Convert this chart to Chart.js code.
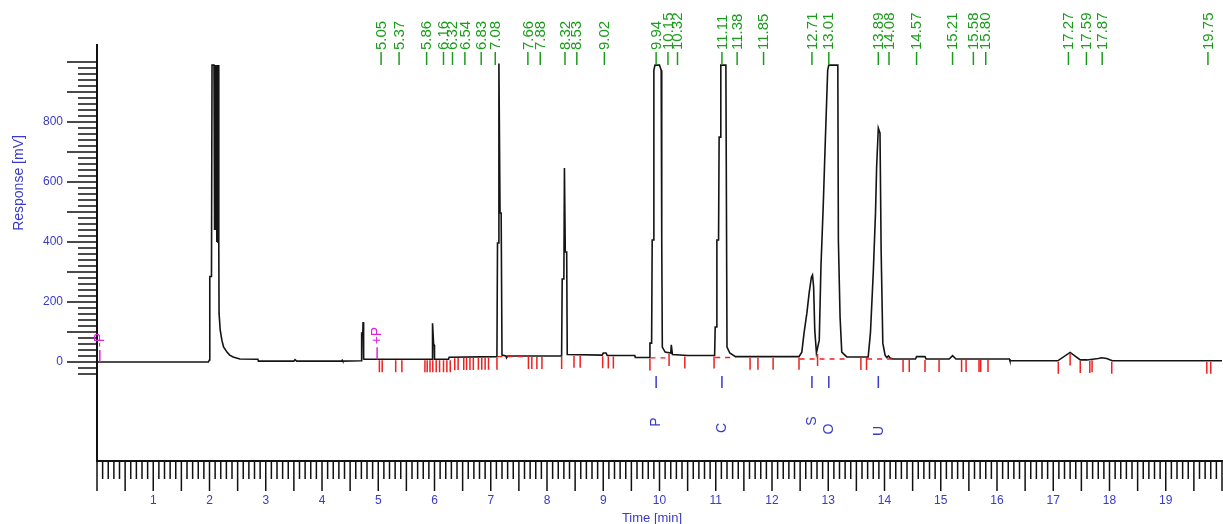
<!DOCTYPE html>
<html>
<head>
<meta charset="utf-8">
<script src="https://cdn.jsdelivr.net/npm/chart.js@4.4.1/dist/chart.umd.min.js"></script>
<style>
  body { margin: 0; background: #fff; }
  canvas { display: block; }
</style>
</head>
<body>
<canvas id="chrom" width="1223" height="524"></canvas>
<script>
// trace: time [min] / response [mV]
const traceTime = [0, 1.98, 2.00, 2.005, 2.035, 2.045, 2.08, 2.09, 2.10, 2.11, 2.12, 2.13, 2.14, 2.15, 2.16, 2.165,
  2.17, 2.19, 2.22, 2.25, 2.31, 2.36, 2.42, 2.54, 2.86, 2.87, 3.50, 3.52, 3.55, 4.35, 4.36, 4.37,
  4.70, 4.705, 4.725, 4.73, 4.74, 4.75, 5.96, 5.965, 5.985, 5.995, 6.00, 6.25, 6.26,
  7.11, 7.12, 7.14, 7.145, 7.165, 7.185, 7.20, 7.27, 7.28, 7.30,
  8.26, 8.27, 8.30, 8.31, 8.325, 8.35, 8.36, 8.98, 9.00, 9.05, 9.07, 9.56, 9.57,
  9.82, 9.83, 9.86, 9.87, 9.89, 9.90, 9.92, 10.00, 10.03, 10.04, 10.05, 10.10, 10.20, 10.21, 10.23, 10.50,
  10.98, 10.99, 11.01, 11.02, 11.05, 11.06, 11.08, 11.09, 11.18, 11.20, 11.25, 11.35,
  12.48, 12.53, 12.57, 12.62, 12.66, 12.70, 12.72, 12.74, 12.76, 12.79,
  12.84, 12.87, 12.91, 12.95, 12.99, 13.01, 13.17, 13.18, 13.21, 13.24, 13.33,
  13.71, 13.75, 13.80, 13.84, 13.86, 13.89, 13.92, 13.94, 13.97, 14.01, 14.04, 14.07, 14.10, 14.15,
  14.55, 14.57, 14.72, 14.74, 15.15, 15.21, 15.27, 16.22, 16.23,
  17.08, 17.30, 17.48, 17.60, 17.80, 17.86, 17.95, 18.05, 20];
const traceMv = [0, 0, 7, 285, 285, 990, 990, 440, 990, 440, 990, 400, 990, 397, 990, 397,
  163, 107, 73, 50, 33, 23, 17, 10, 9, 3, 3, 8, 3, 3, 6, 3,
  4, 97, 97, 133, 10, 9, 9, 129, 57, 57, 9, 9, 16,
  18, 397, 397, 995, 497, 497, 23, 20, 14, 20,
  20, 277, 277, 647, 367, 367, 25, 23, 30, 30, 22, 22, 15,
  15, 63, 63, 407, 407, 973, 990, 990, 973, 400, 50, 33, 30, 57, 25, 22,
  22, 117, 117, 407, 407, 750, 750, 990, 990, 50, 30, 18,
  18, 33, 97, 163, 230, 283, 290, 250, 107, 30,
  73, 317, 517, 750, 973, 990, 990, 407, 150, 33, 17,
  17, 97, 297, 497, 650, 780, 763, 373, 63, 23, 15, 20, 13, 10,
  10, 18, 18, 10, 10, 21, 10, 10, 4,
  4, 32, 7, 7, 12, 14, 12, 4, 4];

// retention time labels (green, top)
const retentionTimes = ['5.05', '5.37', '5.86', '6.16', '6.32', '6.54', '6.83', '7.08', '7.66', '7.88',
  '8.32', '8.53', '9.02', '9.94', '10.15', '10.32', '11.11', '11.38', '11.85', '12.71', '13.01',
  '13.89', '14.08', '14.57', '15.21', '15.58', '15.80', '17.27', '17.59', '17.87', '19.75'];

// named peaks (blue)
const peakNames = ['P', 'C', 'S', 'O', 'U'];
const peakTimes = [9.94, 11.11, 12.71, 13.01, 13.89];

// integration marks (red)
const integrationTicks = [5.02, 5.07, 5.31, 5.42, 5.83, 5.87, 5.92, 5.97, 6.03, 6.09, 6.16, 6.22, 6.28,
  6.36, 6.42, 6.52, 6.57, 6.63, 6.69, 6.78, 6.84, 6.90, 6.96, 7.11, 7.67, 7.73, 7.82, 7.91,
  8.26, 8.48, 8.59, 8.99, 9.09, 9.18, 9.83, 10.17, 10.45, 10.97, 11.61, 11.75, 12.02, 12.48,
  12.81, 13.58, 13.68, 14.33, 14.44, 14.72, 14.97, 15.37, 15.45, 15.68, 15.71, 15.84,
  17.09, 17.30, 17.48, 17.65, 17.69, 18.04, 19.73, 19.80];
const baselineStart = [7.12, 9.84, 10.99, 12.49, 13.69];
const baselineEnd = [7.68, 10.18, 11.35, 13.33, 14.15];
const baselineLevel = [18, 14, 15, 10, 10];

// events (magenta)
const eventTimes = [0.05, 4.98];
const eventLabels = ['-P', '+P'];

const xTickLabels = [1, 2, 3, 4, 5, 6, 7, 8, 9, 10, 11, 12, 13, 14, 15, 16, 17, 18, 19];
const yTickLabels = [0, 200, 400, 600, 800];

const FONT = '"Liberation Sans", Arial, sans-serif';
const BLUE = '#3a3ac8';
const GREEN = '#1c9c1c';
const RED = '#ee2020';
const MAGENTA = '#dd22dd';

function traceAt(t) {
  for (let i = 1; i < traceTime.length; i++) {
    if (traceTime[i] >= t) {
      const f = (t - traceTime[i - 1]) / (traceTime[i] - traceTime[i - 1]);
      return traceMv[i - 1] + f * (traceMv[i] - traceMv[i - 1]);
    }
  }
  return traceMv[traceMv.length - 1];
}
function baseAt(t) {
  let v = traceAt(t);
  traceTime.forEach((tt, i) => { if (Math.abs(tt - t) < 0.06) v = Math.min(v, traceMv[i]); });
  return v;
}

function rotText(ctx, text, x, y) {
  ctx.save();
  ctx.translate(x, y);
  ctx.rotate(-Math.PI / 2);
  ctx.fillText(text, 0, 0);
  ctx.restore();
}

const decor = {
  id: 'decor',
  afterDraw(chart) {
    const ctx = chart.ctx;
    const xs = chart.scales.x, ys = chart.scales.y;
    const area = chart.chartArea;
    ctx.save();

    // axis tick marks
    ctx.strokeStyle = '#111';
    ctx.lineWidth = 1.5;
    ctx.beginPath();
    for (let i = 0; i <= 200; i++) {
      const x = xs.getPixelForValue(i / 10);
      const len = i % 5 === 0 ? 30 : 18;
      ctx.moveTo(x, area.bottom);
      ctx.lineTo(x, area.bottom + len);
    }
    for (let v = -40; v <= 1000; v += 20) {
      const y = ys.getPixelForValue(v);
      const len = v % 100 === 0 ? 30 : 19;
      ctx.moveTo(area.left - len, y);
      ctx.lineTo(area.left, y);
    }
    ctx.stroke();

    // tick labels
    ctx.fillStyle = BLUE;
    ctx.font = '12px ' + FONT;
    ctx.textBaseline = 'middle';
    ctx.textAlign = 'center';
    xTickLabels.forEach(v => ctx.fillText(String(v), xs.getPixelForValue(v), 501));
    ctx.textAlign = 'right';
    yTickLabels.forEach(v => ctx.fillText(String(v), 63, ys.getPixelForValue(v)));

    // red integration baselines
    ctx.strokeStyle = RED;
    ctx.lineWidth = 1.3;
    ctx.setLineDash([5, 5]);
    ctx.beginPath();
    baselineStart.forEach((t0, i) => {
      ctx.moveTo(xs.getPixelForValue(t0), ys.getPixelForValue(baselineLevel[i]));
      ctx.lineTo(xs.getPixelForValue(baselineEnd[i]), ys.getPixelForValue(baselineLevel[i]));
    });
    ctx.stroke();
    ctx.setLineDash([]);

    // red integration ticks
    ctx.lineWidth = 1.5;
    ctx.beginPath();
    integrationTicks.forEach(t => {
      const x = xs.getPixelForValue(t);
      const y = ys.getPixelForValue(baseAt(t)) + 1;
      ctx.moveTo(x, y);
      ctx.lineTo(x, y + 12);
    });
    ctx.stroke();

    // green retention time labels
    ctx.strokeStyle = GREEN;
    ctx.fillStyle = GREEN;
    ctx.font = '15px ' + FONT;
    ctx.textAlign = 'left';
    ctx.textBaseline = 'middle';
    ctx.lineWidth = 1.5;
    retentionTimes.forEach(s => {
      const x = xs.getPixelForValue(parseFloat(s));
      ctx.beginPath();
      ctx.moveTo(x, 65);
      ctx.lineTo(x, 52);
      ctx.stroke();
      rotText(ctx, s, x + 0.5, 50);
    });

    // blue peak names
    const nameY = [422, 428, 421, 429, 431];
    ctx.strokeStyle = BLUE;
    ctx.fillStyle = BLUE;
    ctx.font = '14px ' + FONT;
    ctx.textAlign = 'center';
    peakTimes.forEach((t, i) => {
      const x = xs.getPixelForValue(t);
      ctx.beginPath();
      ctx.moveTo(x, 376);
      ctx.lineTo(x, 388);
      ctx.stroke();
      rotText(ctx, peakNames[i], x + 0.5, nameY[i]);
    });

    // magenta events
    ctx.strokeStyle = MAGENTA;
    ctx.fillStyle = MAGENTA;
    ctx.textAlign = 'left';
    eventTimes.forEach((t, i) => {
      const x = xs.getPixelForValue(t);
      const y = ys.getPixelForValue(traceAt(t));
      ctx.beginPath();
      ctx.moveTo(x, y);
      ctx.lineTo(x, y - 12);
      ctx.stroke();
      rotText(ctx, eventLabels[i], x + 0.5, y - 15);
    });

    // axis titles
    ctx.fillStyle = BLUE;
    ctx.textAlign = 'center';
    ctx.font = '14px ' + FONT;
    rotText(ctx, 'Response [mV]', 19, 183);
    ctx.font = '13px ' + FONT;
    ctx.fillText('Time [min]', 652, 518);

    ctx.restore();
  }
};

new Chart(document.getElementById('chrom'), {
  type: 'line',
  data: {
    datasets: [{
      data: traceTime.map((t, i) => ({ x: t, y: traceMv[i] })),
      borderColor: '#141414',
      borderWidth: 1.6,
      pointRadius: 0,
      tension: 0,
      fill: false
    }]
  },
  options: {
    responsive: false,
    animation: false,
    devicePixelRatio: 1,
    layout: { padding: { top: 45, right: 1, left: 0, bottom: 0 } },
    plugins: { legend: { display: false }, tooltip: { enabled: false } },
    scales: {
      x: {
        type: 'linear',
        min: 0,
        max: 20,
        grid: { display: false },
        border: { color: '#111', width: 2 },
        ticks: { display: false },
        afterFit: s => { s.height = 63; s.paddingLeft = 0; s.paddingRight = 0; }
      },
      y: {
        min: -330,
        max: 1057,
        grid: { display: false },
        border: { color: '#111', width: 2 },
        ticks: { display: false },
        afterFit: s => { s.width = 97; s.paddingTop = 0; s.paddingBottom = 0; }
      }
    }
  },
  plugins: [decor]
});
</script>
</body>
</html>
